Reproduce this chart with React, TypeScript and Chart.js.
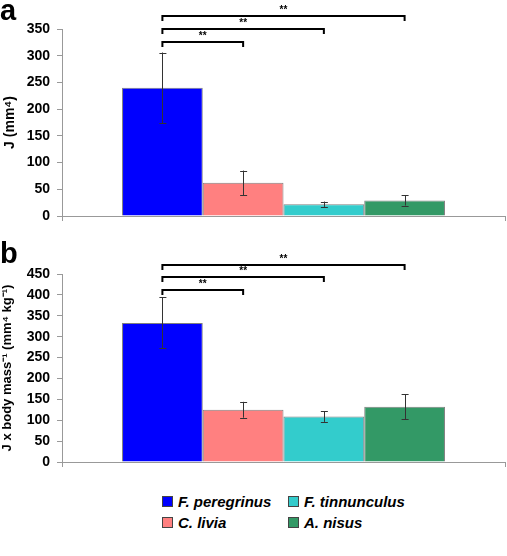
import { useEffect, useRef } from "react";
import Chart from "chart.js/auto";

const species = ["F. peregrinus", "C. livia", "F. tinnunculus", "A. nisus"];
const colors = ["#0000FF", "#FF8080", "#33CCCC", "#339966"];

const jValues = [240, 62, 22, 29];
const jErrors = [66, 23, 5, 9.5];
const jMassValues = [333, 125, 109, 132];
const jMassErrors = [61, 19, 13, 30];

const bracketPairs = [[0, 1], [0, 2], [0, 3]];
const bracketLabel = "**";
const jBracketLevels = [326, 350, 374];
const jMassBracketLevels = [412, 443, 472];

const jTitle = "J (mm\u2074)";
const jMassTitle = "J x body mass\u207B\u00B9 (mm\u2074 kg\u207B\u00B9)";

const FONT = "'Liberation Sans', Arial, sans-serif";

function overlayPlugin(errors: number[], levels: number[]) {
  return {
    id: "overlay",
    afterDatasetsDraw(chart: any) {
      const ctx = chart.ctx;
      const yScale = chart.scales.y;
      const xs: number[] = [];
      ctx.save();
      chart.data.datasets.forEach((ds: any, i: number) => {
        const bar = chart.getDatasetMeta(i).data[0];
        xs.push(bar.x);
        const v = ds.data[0];
        const e = errors[i];
        const yt = yScale.getPixelForValue(v + e);
        const yb = yScale.getPixelForValue(v - e);
        ctx.strokeStyle = "#333";
        ctx.lineWidth = 1;
        ctx.beginPath();
        ctx.moveTo(Math.round(bar.x) + 0.5, yt);
        ctx.lineTo(Math.round(bar.x) + 0.5, yb);
        ctx.moveTo(bar.x - 3, Math.round(yt) + 0.5);
        ctx.lineTo(bar.x + 4, Math.round(yt) + 0.5);
        ctx.moveTo(bar.x - 3, Math.round(yb) + 0.5);
        ctx.lineTo(bar.x + 4, Math.round(yb) + 0.5);
        ctx.stroke();
      });
      bracketPairs.forEach((p, k) => {
        const y = Math.round(yScale.getPixelForValue(levels[k]));
        const x1 = xs[p[0]];
        const x2 = xs[p[1]];
        ctx.strokeStyle = "#000";
        ctx.lineWidth = 2;
        ctx.beginPath();
        ctx.moveTo(x1, y + 5);
        ctx.lineTo(x1, y);
        ctx.lineTo(x2, y);
        ctx.lineTo(x2, y + 5);
        ctx.stroke();
        ctx.fillStyle = "#000";
        ctx.font = `bold 10px ${FONT}`;
        ctx.textAlign = "center";
        ctx.textBaseline = "bottom";
        ctx.fillText(bracketLabel, (x1 + x2) / 2, y - 1);
      });
      ctx.restore();
    },
  };
}

function makeChart(
  canvas: HTMLCanvasElement,
  values: number[],
  errors: number[],
  levels: number[],
  yMax: number,
  title: string,
  titleSize: number,
  titlePad: number,
  padTop: number,
  xHeight: number
) {
  return new Chart(canvas, {
    type: "bar",
    data: {
      labels: [""],
      datasets: species.map((s, i) => ({
        label: s,
        data: [values[i]],
        backgroundColor: colors[i],
        borderColor: "rgba(0,0,0,0.5)",
        borderWidth: 1,
        categoryPercentage: 0.729,
        barPercentage: 1,
      })),
    },
    options: {
      animation: false,
      responsive: false,
      layout: { padding: { top: padTop, right: 2, left: 0, bottom: 0 } },
      plugins: { legend: { display: false }, tooltip: { enabled: false } },
      scales: {
        x: {
          type: "category",
          offset: true,
          grid: {
            display: true,
            drawOnChartArea: false,
            drawTicks: true,
            tickLength: 5,
            offset: true,
            color: "#999",
          },
          border: { display: true, color: "#999", width: 1 },
          ticks: { display: false },
          afterFit: (s: any) => {
            s.height = xHeight;
          },
        },
        y: {
          min: 0,
          max: yMax,
          ticks: {
            stepSize: 50,
            color: "#000",
            padding: 7,
            font: { family: FONT, size: 14, weight: "bold" },
          },
          grid: {
            display: true,
            drawOnChartArea: false,
            drawTicks: true,
            tickLength: 5,
            color: "#999",
          },
          border: { display: true, color: "#999", width: 1 },
          title: {
            display: true,
            text: title,
            color: "#000",
            padding: { top: titlePad, bottom: 0 },
            font: { family: FONT, size: titleSize, weight: "bold" },
          },
          afterFit: (s: any) => {
            s.width = 62;
          },
        },
      },
    } as any,
    plugins: [overlayPlugin(errors, levels)],
  });
}

export default function App() {
  const refA = useRef<HTMLCanvasElement>(null);
  const refB = useRef<HTMLCanvasElement>(null);

  useEffect(() => {
    const a = makeChart(refA.current!, jValues, jErrors, jBracketLevels, 350, jTitle, 14, 2, 29, 17);
    const b = makeChart(refB.current!, jMassValues, jMassErrors, jMassBracketLevels, 450, jMassTitle, 13, 0, 34, 18);
    return () => {
      a.destroy();
      b.destroy();
    };
  }, []);

  const legendPos = [
    { left: 162, top: 496 },
    { left: 162, top: 517 },
    { left: 288, top: 496 },
    { left: 288, top: 517 },
  ];

  return (
    <div
      style={{
        position: "absolute",
        left: 0,
        top: 0,
        width: 507,
        height: 556,
        background: "#fff",
        fontFamily: FONT,
        overflow: "hidden",
      }}
    >
      <canvas ref={refA} width={507} height={233} style={{ position: "absolute", left: 0, top: 0 }} />
      <canvas ref={refB} width={507} height={240} style={{ position: "absolute", left: 0, top: 240 }} />
      <div style={{ position: "absolute", left: 0, top: -7, fontSize: 29, fontWeight: "bold", lineHeight: "34px" }}>a</div>
      <div style={{ position: "absolute", left: 0, top: 236, fontSize: 29, fontWeight: "bold", lineHeight: "34px" }}>b</div>
      {species.map((s, i) => (
        <div
          key={s}
          style={{
            position: "absolute",
            left: legendPos[i].left,
            top: legendPos[i].top - 5,
            height: 20,
            display: "flex",
            alignItems: "center",
            whiteSpace: "nowrap",
          }}
        >
          <span
            style={{
              display: "inline-block",
              width: 9,
              height: 9,
              background: colors[i],
              border: "1px solid #444",
              marginRight: 5,
            }}
          />
          <span style={{ fontSize: 15, fontWeight: "bold", fontStyle: "italic" }}>{s}</span>
        </div>
      ))}
    </div>
  );
}
